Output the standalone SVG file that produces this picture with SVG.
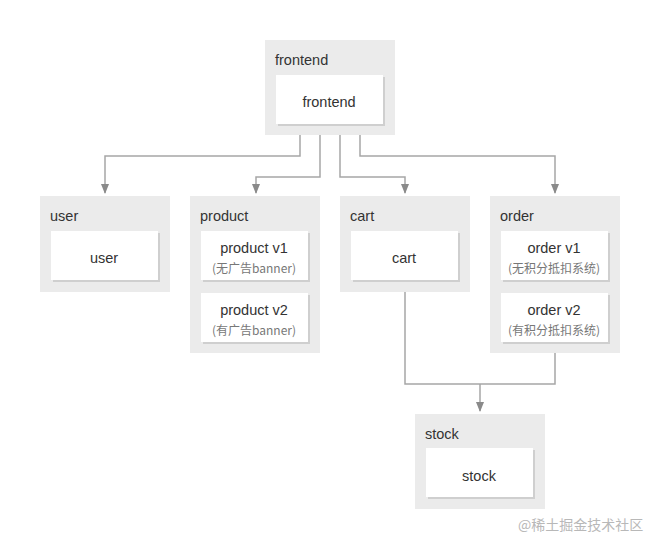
<svg xmlns="http://www.w3.org/2000/svg" width="660" height="550" viewBox="0 0 660 550">
<defs>
<marker id="arr" markerWidth="10" markerHeight="8" refX="9" refY="4" orient="auto" markerUnits="userSpaceOnUse">
<path d="M0,0 L10,4 L0,8 Z" fill="#8a8a8a"/>
</marker>
</defs>
<style>
.outer{fill:#ebebeb}
.shadow{fill:#cfcfcf}
.inner{fill:#ffffff}
.lbl{font-family:"Liberation Sans","Noto Sans CJK SC",sans-serif;font-size:14.5px;fill:#333}
.t{font-family:"Liberation Sans","Noto Sans CJK SC",sans-serif;font-size:14.5px;fill:#333;text-anchor:middle}
.s{font-family:"Noto Sans CJK SC",sans-serif;font-size:12px;fill:#777;text-anchor:middle}
.c{fill:none;stroke:#a6a6a6;stroke-width:1.5}
.wm{font-family:"Noto Sans CJK SC",sans-serif;font-size:14px;fill:#b8b8b8}
</style>
<rect width="660" height="550" fill="#ffffff"/>
<g id="connectors">
<path class="c" d="M300,135 V156 H105 V193" marker-end="url(#arr)"/>
<path class="c" d="M320,135 V177 H256 V193" marker-end="url(#arr)"/>
<path class="c" d="M340,135 V177 H405 V193" marker-end="url(#arr)"/>
<path class="c" d="M360,135 V156 H555 V193" marker-end="url(#arr)"/>
<path class="c" d="M405,292 V384 H555 V353"/>
<path class="c" d="M480,384 V411" marker-end="url(#arr)"/>
</g>
<g id="frontend">
<rect class="outer" x="265" y="40" width="130" height="95"/>
<text class="lbl" x="275" y="65">frontend</text>
<rect class="shadow" x="278" y="77" width="107" height="49"/>
<rect class="inner" x="276" y="75" width="107" height="49"/>
<text class="t" x="329" y="107">frontend</text>
</g>
<g id="user">
<rect class="outer" x="40" y="196" width="130" height="96"/>
<text class="lbl" x="50" y="221">user</text>
<rect class="shadow" x="53" y="233" width="107" height="49"/>
<rect class="inner" x="51" y="231" width="107" height="49"/>
<text class="t" x="104" y="263">user</text>
</g>
<g id="product">
<rect class="outer" x="190" y="196" width="130" height="157"/>
<text class="lbl" x="200" y="221">product</text>
<rect class="shadow" x="203" y="233" width="107" height="49"/>
<rect class="inner" x="201" y="231" width="107" height="49"/>
<text class="t" x="254" y="253">product v1</text>
<text class="s" x="254" y="273">(无广告banner)</text>
<rect class="shadow" x="203" y="295" width="107" height="49"/>
<rect class="inner" x="201" y="293" width="107" height="49"/>
<text class="t" x="254" y="315">product v2</text>
<text class="s" x="254" y="335">(有广告banner)</text>
</g>
<g id="cart">
<rect class="outer" x="340" y="196" width="130" height="96"/>
<text class="lbl" x="350" y="221">cart</text>
<rect class="shadow" x="353" y="233" width="107" height="49"/>
<rect class="inner" x="351" y="231" width="107" height="49"/>
<text class="t" x="404" y="263">cart</text>
</g>
<g id="order">
<rect class="outer" x="490" y="196" width="130" height="157"/>
<text class="lbl" x="500" y="221">order</text>
<rect class="shadow" x="503" y="233" width="107" height="49"/>
<rect class="inner" x="501" y="231" width="107" height="49"/>
<text class="t" x="554" y="253">order v1</text>
<text class="s" x="554" y="273">(无积分抵扣系统)</text>
<rect class="shadow" x="503" y="295" width="107" height="49"/>
<rect class="inner" x="501" y="293" width="107" height="49"/>
<text class="t" x="554" y="315">order v2</text>
<text class="s" x="554" y="335">(有积分抵扣系统)</text>
</g>
<g id="stock">
<rect class="outer" x="415" y="414" width="130" height="95"/>
<text class="lbl" x="425" y="439">stock</text>
<rect class="shadow" x="428" y="450" width="107" height="49"/>
<rect class="inner" x="426" y="448" width="107" height="49"/>
<text class="t" x="479" y="481">stock</text>
</g>
<text class="wm" x="518" y="530">@稀土掘金技术社区</text>
</svg>
